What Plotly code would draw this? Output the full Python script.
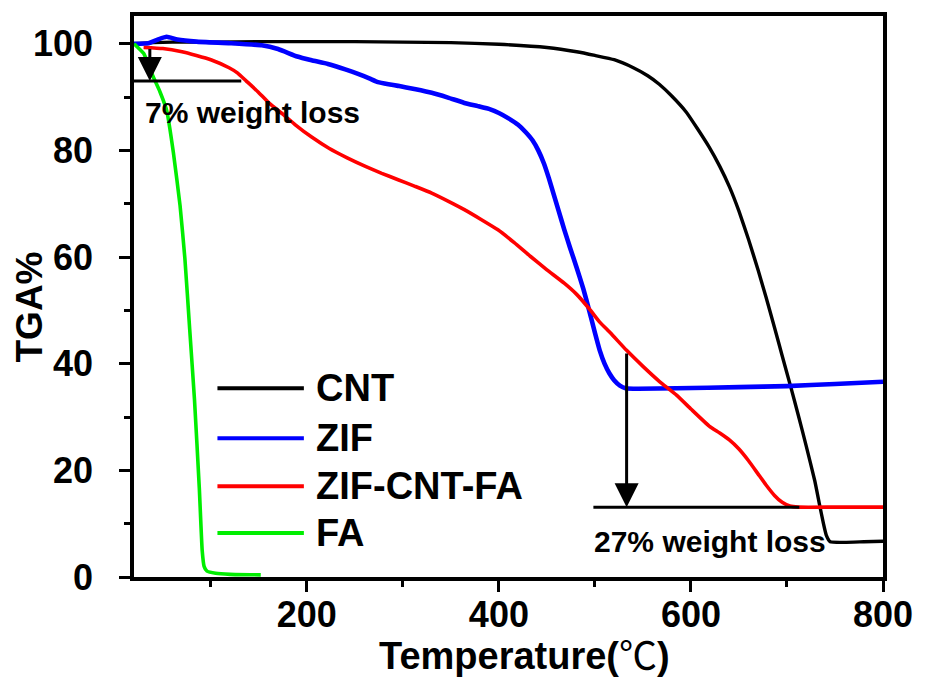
import plotly.graph_objects as go

# ---------------- data ----------------
cnt_temp = [20, 40, 60, 100, 150, 200, 250, 300, 350, 400, 450, 481, 500, 520, 540, 555,
            567, 580, 595, 607, 619, 630, 640, 650, 660, 670, 678, 687, 695, 704, 712, 720,
            729, 734, 738, 741, 745, 760, 780, 800]
cnt_tga = [100.0, 100.2, 100.3, 100.3, 100.4, 100.4, 100.4, 100.3, 100.2, 99.9, 99.3, 98.5,
           97.8, 97.0, 95.5, 94.0, 92.4, 90.2, 87.2, 84.0, 80.6, 77.0, 73.2, 68.6, 63.3,
           57.5, 52.6, 46.8, 41.5, 35.6, 30.2, 24.6, 18.0, 13.5, 10.0, 7.8, 6.6, 6.5, 6.6,
           6.7]

zif_temp = [20, 35, 45, 54, 65, 85, 120, 153, 170, 190, 205, 222, 240, 254, 265, 274, 285,
            295, 312, 330, 347, 364, 378, 391, 400, 410, 420, 428, 435, 441, 447, 452, 457,
            462, 468, 474, 481, 488, 494, 500, 505, 510, 515, 520, 526, 532, 545, 585, 650,
            700, 750, 800]
zif_tga = [100.0, 100.1, 100.8, 101.3, 100.8, 100.4, 100.1, 99.7, 99.0, 97.6, 96.9, 96.2,
           95.2, 94.3, 93.5, 92.8, 92.4, 92.1, 91.5, 90.8, 89.9, 88.9, 88.3, 87.7, 87.0,
           86.0, 84.8, 83.4, 81.9, 80.0, 77.5, 74.8, 71.8, 68.8, 65.2, 61.8, 58.0, 54.0,
           50.0, 45.8, 42.5, 40.0, 38.2, 36.9, 35.9, 35.4, 35.3, 35.4, 35.6, 35.8, 36.2,
           36.6]

zcf_temp = [30, 50, 70, 85, 100, 119, 128, 137, 149, 161, 175, 188, 205, 223, 242, 261,
            278, 295, 312, 330, 347, 364, 381, 399, 416, 433, 450, 468, 481, 495, 505, 516,
            533, 550, 567, 585, 600, 619, 630, 640, 650, 660, 670, 678, 687, 695, 703, 712,
            750, 800]
zcf_tga = [99.3, 99.1, 98.5, 97.8, 97.0, 95.5, 94.5, 93.0, 91.0, 88.8, 86.8, 84.8, 82.5,
           80.4, 78.6, 77.0, 75.7, 74.5, 73.3, 72.0, 70.5, 68.9, 67.1, 65.1, 62.7, 60.1,
           57.6, 55.1, 53.0, 50.1, 47.8, 45.8, 42.5, 39.5, 36.7, 34.1, 31.5, 28.3, 27.0,
           25.7, 24.0, 21.8, 19.3, 17.3, 15.3, 14.0, 13.3, 13.1, 13.1, 13.1]

fa_temp = [20, 30, 36.5, 40, 47, 54, 61, 68, 73, 78, 83, 88, 91, 93, 96, 105, 120, 152]
fa_tga = [100.0, 98.2, 95.5, 93.8, 91.0, 87.5, 79.6, 69.6, 59.7, 46.5, 33.2, 16.7, 5.0,
          2.0, 1.1, 0.7, 0.5, 0.4]

series_names = ["CNT", "ZIF", "ZIF-CNT-FA", "FA"]
series_colors = ["#000000", "#0000ff", "#ff0000", "#00ee00"]

x_ticks = [200, 400, 600, 800]
x_minor = [100, 300, 500, 700]
y_ticks = [0, 20, 40, 60, 80, 100]
y_minor = [10, 30, 50, 70, 90]

# annotation values (weight loss markers)
loss7_label = "7% weight loss"
loss7_temp = 36.5
loss7_from, loss7_to = 99.3, 93.0
loss7_line = [18, 131.7]
loss27_label = "27% weight loss"
loss27_temp = 533
loss27_from, loss27_to = 42.2, 13.1
loss27_line = [498.4, 712.9]

# ---------------- figure ----------------
FONT = "Liberation Sans, Arial, sans-serif"
fig = go.Figure()
all_x = [cnt_temp, zif_temp, zcf_temp, fa_temp]
all_y = [cnt_tga, zif_tga, zcf_tga, fa_tga]
widths = [3.4, 4.6, 3.6, 3.6]
for xs, ys, name, col, w in zip(all_x, all_y, series_names, series_colors, widths):
    fig.add_trace(go.Scatter(x=xs, y=ys, mode="lines", name=name,
                             line=dict(color=col, width=w, shape="spline", smoothing=0.4)))

# horizontal reference lines
fig.add_shape(type="line", xref="x", yref="y", x0=loss7_line[0], x1=loss7_line[1],
              y0=loss7_to, y1=loss7_to, line=dict(color="black", width=3))
fig.add_shape(type="line", xref="x", yref="y", x0=loss27_line[0], x1=loss27_line[1],
              y0=loss27_to, y1=loss27_to, line=dict(color="black", width=3))

# arrows
for xv, y0, y1 in [(loss7_temp, loss7_from, loss7_to), (loss27_temp, loss27_from, loss27_to)]:
    fig.add_annotation(x=xv, y=y1, ax=xv, ay=y0, xref="x", yref="y", axref="x", ayref="y",
                       text="", showarrow=True, arrowhead=2, arrowsize=1.6, arrowwidth=3,
                       arrowcolor="black", standoff=0)

fig.add_annotation(x=28.9, y=87.1, xref="x", yref="y", text="<b>" + loss7_label + "</b>",
                   showarrow=False, xanchor="left", yanchor="middle",
                   font=dict(family=FONT, size=30, color="black"))
fig.add_annotation(x=496.7, y=6.6, xref="x", yref="y", text="<b>" + loss27_label + "</b>",
                   showarrow=False, xanchor="left", yanchor="middle",
                   font=dict(family=FONT, size=30, color="black"))

# manual legend (layout positions in paper coordinates)
leg_x0, leg_x1, leg_tx = 0.1114, 0.2268, 0.240
leg_ys = [0.3363, 0.2473, 0.1619, 0.0783]
for name, col, ly in zip(series_names, series_colors, leg_ys):
    fig.add_shape(type="line", xref="paper", yref="paper", x0=leg_x0, x1=leg_x1,
                  y0=ly, y1=ly, line=dict(color=col, width=4))
    fig.add_annotation(x=leg_tx, y=ly, xref="paper", yref="paper", text="<b>" + name + "</b>",
                       showarrow=False, xanchor="left", yanchor="middle",
                       font=dict(family=FONT, size=38, color="black"))

# axis titles
fig.add_annotation(x=0.521, y=-0.135, xref="paper", yref="paper",
                   text="<b>Temperature(</b><span style=\"font-family:Noto Sans CJK SC;font-weight:normal\">℃</span><b>)</b>",
                   showarrow=False, xanchor="center", yanchor="middle",
                   font=dict(family=FONT, size=38, color="black"))
fig.add_annotation(x=-0.139, y=0.482, xref="paper", yref="paper", text="<b>TGA%</b>",
                   textangle=-90, showarrow=False, xanchor="center", yanchor="middle",
                   font=dict(family=FONT, size=37, color="black"))

axis_common = dict(showgrid=False, zeroline=False, showline=True, linewidth=3.5,
                   linecolor="black", mirror=True, ticks="outside", ticklen=11,
                   tickwidth=3, tickcolor="black",
                   tickfont=dict(family=FONT, size=36, color="black", weight="bold"))
fig.update_xaxes(range=[20, 800], tickvals=x_ticks, ticklabelstandoff=-8,
                 minor=dict(tickvals=x_minor, ticks="outside", ticklen=6,
                            tickwidth=3, tickcolor="black", showgrid=False),
                 **axis_common)
fig.update_yaxes(range=[0, 105.2], tickvals=y_ticks, ticklabelstandoff=19,
                 minor=dict(tickvals=y_minor, ticks="outside", ticklen=6,
                            tickwidth=3, tickcolor="black", showgrid=False),
                 **axis_common)

fig.update_layout(width=925, height=679, showlegend=False,
                  margin=dict(l=134, r=37, t=15, b=102),
                  plot_bgcolor="white", paper_bgcolor="white")

fig.write_html("out.html", config={"displayModeBar": False},
               post_script="document.body.style.margin='0px';document.body.style.overflow='hidden';")
